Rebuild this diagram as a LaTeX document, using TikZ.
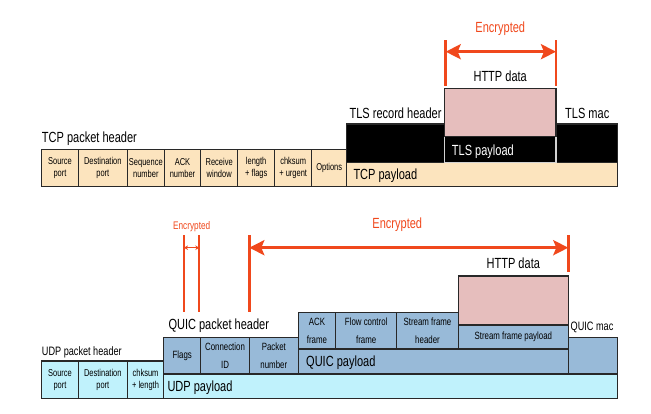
\documentclass[tikz,border=0pt]{standalone}
\usepackage{fontspec}
\setmainfont{Liberation Sans}[FakeStretch=0.75]
\usetikzlibrary{arrows.meta,positioning}

\definecolor{tcptan}{RGB}{252,228,190}
\definecolor{tlspink}{RGB}{230,190,189}
\definecolor{quicblue}{RGB}{152,186,216}
\definecolor{udpcyan}{RGB}{192,242,252}
\definecolor{encred}{RGB}{240,72,28}
\definecolor{edge}{RGB}{40,40,40}

\begin{document}
\begin{tikzpicture}[
  x=1pt, y=-1pt,
  field/.style={draw=edge, line width=1.1pt, anchor=north west, inner sep=0pt, outer sep=0pt, align=center, font=\fontsize{10}{12}\selectfont},
  tcpfield/.style={field, fill=tcptan},
  udpfield/.style={field, fill=udpcyan},
  quicfield/.style={field, fill=quicblue, font=\fontsize{10.5}{18.5}\selectfont},
  title/.style={font=\fontsize{14.7}{16}\selectfont, inner sep=0pt},
  subtitle/.style={font=\fontsize{12.2}{14}\selectfont, inner sep=0pt},
  enctext/.style={title, text=encred},
  encline/.style={draw=encred, line width=2.6pt},
  encarrow/.style={{Stealth[length=15pt,width=15pt,inset=3pt]}-{Stealth[length=15pt,width=15pt,inset=3pt]}, draw=encred, line width=3pt}
]
\useasboundingbox (0,0) rectangle (651,413);

% TCP packet header
\node[tcpfield, minimum width=36.6pt, minimum height=37.4pt] (tcpsrc) at (41.7,149.3) {Source\\port};
\node[tcpfield, minimum width=49pt, minimum height=37.4pt] (tcpdst) at (tcpsrc.north east) {Destination\\port};
\node[tcpfield, minimum width=37pt, minimum height=37.4pt] (tcpseq) at (tcpdst.north east) {Sequence\\number};
\node[tcpfield, minimum width=36.4pt, minimum height=37.4pt] (tcpack) at (tcpseq.north east) {ACK\\number};
\node[tcpfield, minimum width=37pt, minimum height=37.4pt] (tcpwin) at (tcpack.north east) {Receive\\window};
\node[tcpfield, minimum width=37pt, minimum height=37.4pt] (tcplen) at (tcpwin.north east) {length\\+ flags};
\node[tcpfield, minimum width=37pt, minimum height=37.4pt] (tcpchk) at (tcplen.north east) {chksum\\+ urgent};
\node[tcpfield, minimum width=35pt, minimum height=37.4pt] (tcpopt) at (tcpchk.north east) {Options};
\node[title, anchor=base west] (tcphdr) at ([yshift=6.6pt]tcpsrc.north west) {TCP packet header};

% TLS record inside the TCP payload
\node[field, fill=black, minimum width=271pt, minimum height=38.7pt] (tlsrec) at (346.7,124) {};
\node[tcpfield, minimum width=271pt, minimum height=24pt] (tcppay) at (tlsrec.south west) {};
\node[title, anchor=base west] (tcppaytxt) at (353.3,179) {TCP payload};
\node[field, draw=gray!35, fill=black, minimum width=111.7pt, minimum height=26pt] (tlspay) at (444.3,136.7) {};
\node[title, anchor=base west, text=white] (tlspaytxt) at (451.7,155) {TLS payload};
\node[field, fill=tlspink, minimum width=111.7pt, minimum height=48.4pt] (tcphttp) at (444.3,88.3) {};
\node[title, anchor=base] (tcphttptxt) at (500.2,81.7) {HTTP data};
\node[title, anchor=base east] (tlshdr) at (441.7,118.3) {TLS record header};
\node[title, anchor=base west] (tlsmac) at (565,118.3) {TLS mac};

% Encrypted span (TLS)
\coordinate (tlsencl) at (445.7,51.7);
\coordinate (tlsencr) at (556,51.7);
\draw[encline] ([yshift=11.7pt]tlsencl) -- ([yshift=-34.3pt]tlsencl);
\draw[encline] ([yshift=11.7pt]tlsencr) -- ([yshift=-34.3pt]tlsencr);
\draw[encarrow] (tlsencl) -- (tlsencr);
\node[enctext, anchor=base] (tlsenc) at (500.3,32.7) {Encrypted};

% UDP packet header
\node[udpfield, minimum width=36.6pt, minimum height=37.3pt] (udpsrc) at (41.7,361) {Source\\port};
\node[udpfield, minimum width=49pt, minimum height=37.3pt] (udpdst) at (udpsrc.north east) {Destination\\port};
\node[udpfield, minimum width=36.4pt, minimum height=37.3pt] (udpchk) at (udpdst.north east) {chksum\\+ length};
\node[subtitle, anchor=base west] (udphdr) at ([yshift=6pt]udpsrc.north west) {UDP packet header};
\node[udpfield, minimum width=454pt, minimum height=24.3pt] (udppay) at (udpchk.south east |- 0,374) {};
\node[title, anchor=base west] (udppaytxt) at (167.3,391) {UDP payload};

% QUIC packet header
\node[quicfield, minimum width=37pt, minimum height=36.7pt] (flags) at (163.7,337.3) {Flags};
\node[quicfield, minimum width=48.6pt, minimum height=36.7pt] (connid) at (flags.north east) {Connection\\ID};
\node[quicfield, minimum width=49pt, minimum height=36.7pt] (pktnum) at (connid.north east) {Packet\\number};
\node[title, anchor=base west] (quichdr) at (168.3,329.5) {QUIC packet header};

% QUIC payload and frames
\node[quicfield, minimum width=49.4pt, minimum height=36.7pt] (quicmacbox) at (568.3,337.3) {};
\node[subtitle, anchor=base west] (quicmac) at (570.5,330.7) {QUIC mac};
\node[quicfield, minimum width=270pt, minimum height=25pt] (quicpay) at (298.3,349) {};
\node[title, anchor=base west] (quicpaytxt) at (306,366.7) {QUIC payload};
\node[quicfield, minimum width=37.4pt, minimum height=36.3pt] (ackfr) at (298.3,312.7) {ACK\\frame};
\node[quicfield, minimum width=61pt, minimum height=36.3pt] (flowfr) at (ackfr.north east) {Flow control\\frame};
\node[quicfield, minimum width=61.6pt, minimum height=36.3pt] (sfhdr) at (flowfr.north east) {Stream frame\\header};
\node[quicfield, minimum width=110pt, minimum height=24pt] (sfpay) at (458.3,325) {Stream frame payload};
\node[field, fill=tlspink, minimum width=110pt, minimum height=49pt] (quichttp) at (458.3,276) {};
\node[title, anchor=base] (quichttptxt) at (513.3,268.3) {HTTP data};

% Encrypted span (QUIC payload)
\coordinate (quicencl) at (249.3,247.7);
\coordinate (quicencr) at (568.3,247.7);
\draw[encline] ([yshift=12.7pt]quicencl) -- ([yshift=-64.6pt]quicencl);
\draw[encline] ([yshift=12.7pt]quicencr) -- ([yshift=-24pt]quicencr);
\draw[encarrow] (quicencl) -- (quicencr);
\node[enctext, anchor=base] (quicenc) at (397.3,228.7) {Encrypted};

% Encrypted span (header bits)
\coordinate (hdrencl) at (184,247.7);
\coordinate (hdrencr) at (199.3,247.7);
\draw[encred, line width=1.8pt] ([yshift=12.7pt]hdrencl) -- ([yshift=-64.6pt]hdrencl);
\draw[encred, line width=1.8pt] ([yshift=12.7pt]hdrencr) -- ([yshift=-64.6pt]hdrencr);
\draw[{Stealth[length=4pt,width=4.5pt]}-{Stealth[length=4pt,width=4.5pt]}, encred, line width=1.3pt] (hdrencl) -- (hdrencr);
\node[font=\fontsize{11}{12}\selectfont, text=encred, inner sep=0pt, anchor=base] (hdrenc) at (191.7,229) {Encrypted};

\end{tikzpicture}
\end{document}
